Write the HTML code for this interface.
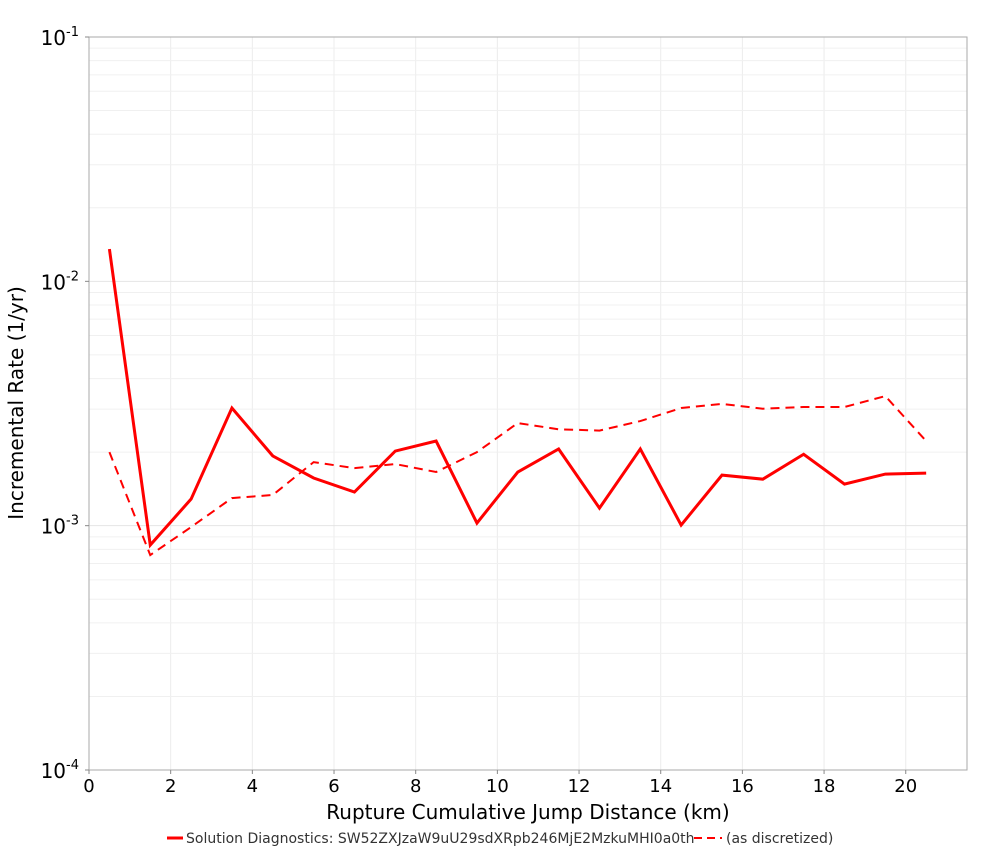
<!DOCTYPE html>
<html><head><meta charset="utf-8"><style>
body{margin:0;background:#fff;font-family:"Liberation Sans","DejaVu Sans",sans-serif;}
svg text{font-family:"DejaVu Sans","Liberation Sans",sans-serif;}
</style></head><body>
<svg id="chart" width="1000" height="850" xmlns="http://www.w3.org/2000/svg">
<g id="grid"></g>
<rect x="89" y="37" width="878" height="733" fill="none" stroke="#aaa" stroke-width="1"/>
<g id="marks"></g>
<g id="axes"></g>
<text transform="translate(23,403) rotate(-90)" text-anchor="middle" font-size="20" fill="#000">Incremental Rate (1/yr)</text>
<text x="528" y="819" text-anchor="middle" font-size="20" fill="#000">Rupture Cumulative Jump Distance (km)</text>
<g>
<line x1="167" y1="838" x2="183" y2="838" stroke="#f00" stroke-width="3"/>
<text x="186" y="843" font-size="14" fill="#333">Solution Diagnostics: SW52ZXJzaW9uU29sdXRpb246MjE2MzkuMHI0a0th</text>
<line x1="694" y1="838" x2="722" y2="838" stroke="#f00" stroke-width="2" stroke-dasharray="8,5"/>
<text x="726" y="843" font-size="14" fill="#333">(as discretized)</text>
</g>
</svg>
<script>
const xValues=[0.5,1.5,2.5,3.5,4.5,5.5,6.5,7.5,8.5,9.5,10.5,11.5,12.5,13.5,14.5,15.5,16.5,17.5,18.5,19.5,20.5];
const solutionRates=[0.01355,0.000833,0.001285,0.00303,0.00193,0.001567,0.001373,0.00202,0.00222,0.001025,0.001658,0.00206,0.00118,0.00206,0.001006,0.00161,0.00155,0.00196,0.00148,0.001626,0.00164];
const discretizedRates=[0.0020,0.000758,0.000987,0.001297,0.001335,0.00182,0.00172,0.001787,0.001658,0.0020,0.00263,0.00248,0.00245,0.00268,0.00303,0.00315,0.00301,0.00306,0.00306,0.00339,0.00222];
const xTicks=[0,2,4,6,8,10,12,14,16,18,20];
const yDecades=[-4,-3,-2,-1];
const NS="http://www.w3.org/2000/svg";
const L=89,R=967,T=37,B=770,XMAX=21.5;
const xs=v=>L+(v/XMAX)*(R-L);
const ys=v=>T+(-1-Math.log10(v))/3*(B-T);
function mk(tag,attrs,parent){const e=document.createElementNS(NS,tag);for(const k in attrs)e.setAttribute(k,attrs[k]);parent.appendChild(e);return e;}
const grid=document.getElementById('grid'),axes=document.getElementById('axes'),marks=document.getElementById('marks');
xTicks.forEach(t=>{
 const g=mk('line',{x1:xs(t),x2:xs(t),y1:T,y2:B,stroke:'#ececec'},grid);
 
 
 const tk=mk('line',{x1:xs(t),x2:xs(t),y1:B,y2:B+4,stroke:'#888'},axes);
 
 
 const tx=mk('text',{x:xs(t),y:B+22,'text-anchor':'middle','font-size':'18',fill:'#000'},axes);
 tx.textContent=t;
 
 
});
yDecades.forEach(d=>{
 for(let m=1;m<10;m++){
  if(d===-1&&m>1)break;
  const v=m*Math.pow(10,d);
  const g=mk('line',{x1:L,x2:R,y1:ys(v),y2:ys(v),stroke:m===1?'#e4e4e4':'#f0f0f0'},grid);
  
  
 }
 const y=ys(Math.pow(10,d));
 const tk=mk('line',{x1:L-4,x2:L,y1:y,y2:y,stroke:'#888'},axes);
 
 
 const tx=mk('text',{x:L-10,y:y+8,'text-anchor':'end','font-size':'20',fill:'#000'},axes);
 tx.innerHTML='10<tspan dy="-9" font-size="13">'+d+'</tspan>';
 
 
});
function line(vals,name,dash,w){
 const p=mk('polyline',{points:xValues.map((x,i)=>xs(x)+','+ys(vals[i])).join(' '),fill:'none',stroke:'#f00','stroke-width':w,'stroke-linejoin':'miter'},marks);
 if(dash)p.setAttribute('stroke-dasharray',dash);
 
 
}
line(discretizedRates,'discretized-series-line','9,6',2);
line(solutionRates,'solution-series-line',null,3);
</script>
</body></html>
